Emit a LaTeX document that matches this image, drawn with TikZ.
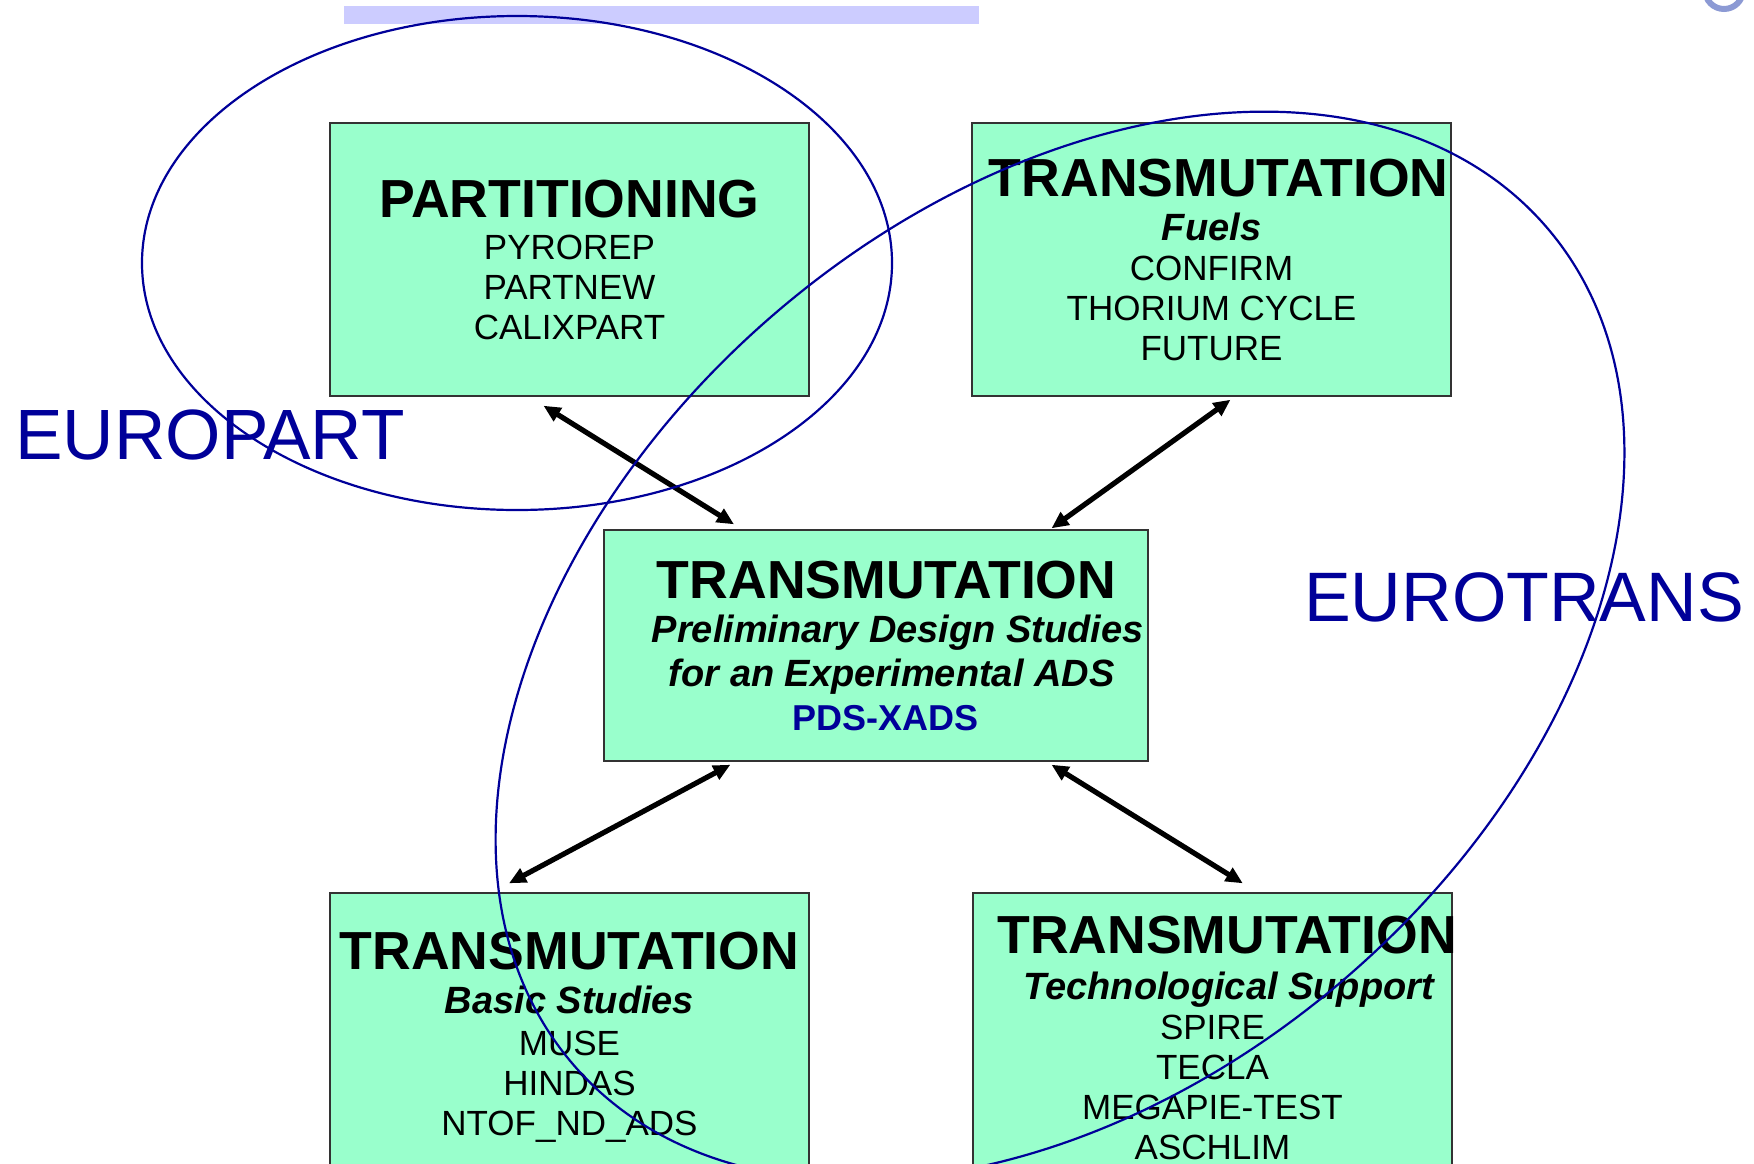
\documentclass[tikz,border=0pt]{standalone}
\usepackage{fontspec}
\setmainfont{Liberation Sans}
\usepackage{tikz}
\usetikzlibrary{shapes.geometric, arrows.meta, calc}
\usepackage{xcolor}
\definecolor{mint}{HTML}{99FFCC}
\definecolor{euroblue}{HTML}{000099}
\definecolor{barblue}{HTML}{CCCCFF}
\definecolor{logoblue}{HTML}{8C9AD4}
\tikzstyle{stage} = [rectangle, minimum width=239.5pt, minimum height=136.5pt,
inner sep=1pt, align=center, draw=black!80, line width=0.7pt, fill=mint,
font=\fontsize{17.5}{20}\selectfont]
\tikzstyle{arrow} = [line width=2.6pt,
{Triangle[length=8.5pt,width=7.5pt]}-{Triangle[length=8.5pt,width=7.5pt]}]
\tikzstyle{project} = [draw=euroblue, line width=1.1pt]
\tikzstyle{projname} = [text=euroblue, font=\fontsize{35.6}{36}\selectfont]
\newcommand{\stagetitle}[1]{{\fontsize{26.8}{27}\selectfont\bfseries #1}}
\newcommand{\stagesub}[1]{{\fontsize{19}{19}\selectfont\bfseries\itshape #1}}
\newcommand{\nudge}[2]{\kern#1#2\kern-#1}

\begin{document}
\begin{tikzpicture}[x=0.5pt, y=-0.5pt]
  \clip (0,0) rectangle (1754,1163);
  % Header bar and logo
  \fill [barblue] (344,6) rectangle (979,24);
  \draw [logoblue, line width=3pt] (1724,-10) circle (19);
  % Nodes of the framework
  \node (part) [stage] at (569.5,259.5)
        {\stagetitle{PARTITIONING}\\[1pt] PYROREP\\ PARTNEW\\ CALIXPART};
  \node (fuels) [stage] at (1211.5,259.5)
        {\nudge{3.6pt}{\stagetitle{TRANSMUTATION}}\\[2pt] \stagesub{Fuels}\\ CONFIRM\\
         THORIUM CYCLE\\ FUTURE};
  \node (pds) [stage, minimum width=272pt, minimum height=115.5pt] at (876,645.5)
        {\nudge{5.3pt}{\stagetitle{TRANSMUTATION}}\\[2pt]
         \nudge{10.9pt}{\stagesub{Preliminary Design Studies}}\\[2pt]
         \nudge{7.8pt}{\stagesub{for an Experimental ADS}}\\[2pt]
         \nudge{4.7pt}{{\fontsize{18}{18}\selectfont\bfseries\color{euroblue}PDS-XADS}}};
  \node (basic) [stage, minimum height=144.5pt] at (569.5,1037.5)
        {\stagetitle{TRANSMUTATION}\\[2pt] \stagesub{Basic Studies}\\[1pt] MUSE\\
         HINDAS\\ NTOF\_ND\_ADS};
  \node (tech) [stage, minimum height=144.5pt] at (1212.5,1037.5)
        {\nudge{7.3pt}{\stagetitle{TRANSMUTATION}}\\[3pt]
         \nudge{8.1pt}{\stagesub{Technological Support}}\\ SPIRE\\
         TECLA\\ MEGAPIE-TEST\\ ASCHLIM};
  % Connections
  \draw [arrow] ($(part.south)+(-26,9)$) -- ($(pds.north)+(-142,-5)$);
  \draw [arrow] ($(fuels.south)+(19,3)$) -- ($(pds.north)+(175.5,-1)$);
  \draw [arrow] ($(pds.south)+(-145.6,3)$) -- ($(basic.north)+(-60.5,-9)$);
  \draw [arrow] ($(pds.south)+(175.5,3)$) -- ($(tech.north)+(30.3,-9)$);
  % Projects
  \draw [project] (517,263) ellipse [x radius=375, y radius=247];
  \draw [project, rotate around={40.7:(1060,646)}] (1060,646)
        ellipse [x radius=642, y radius=438];
  \node (europart) [projname] at (210,435) {EUROPART};
  \node (eurotrans) [projname, font=\fontsize{35}{36}\selectfont] at (1524,597) {EUROTRANS};
\end{tikzpicture}
\end{document}
